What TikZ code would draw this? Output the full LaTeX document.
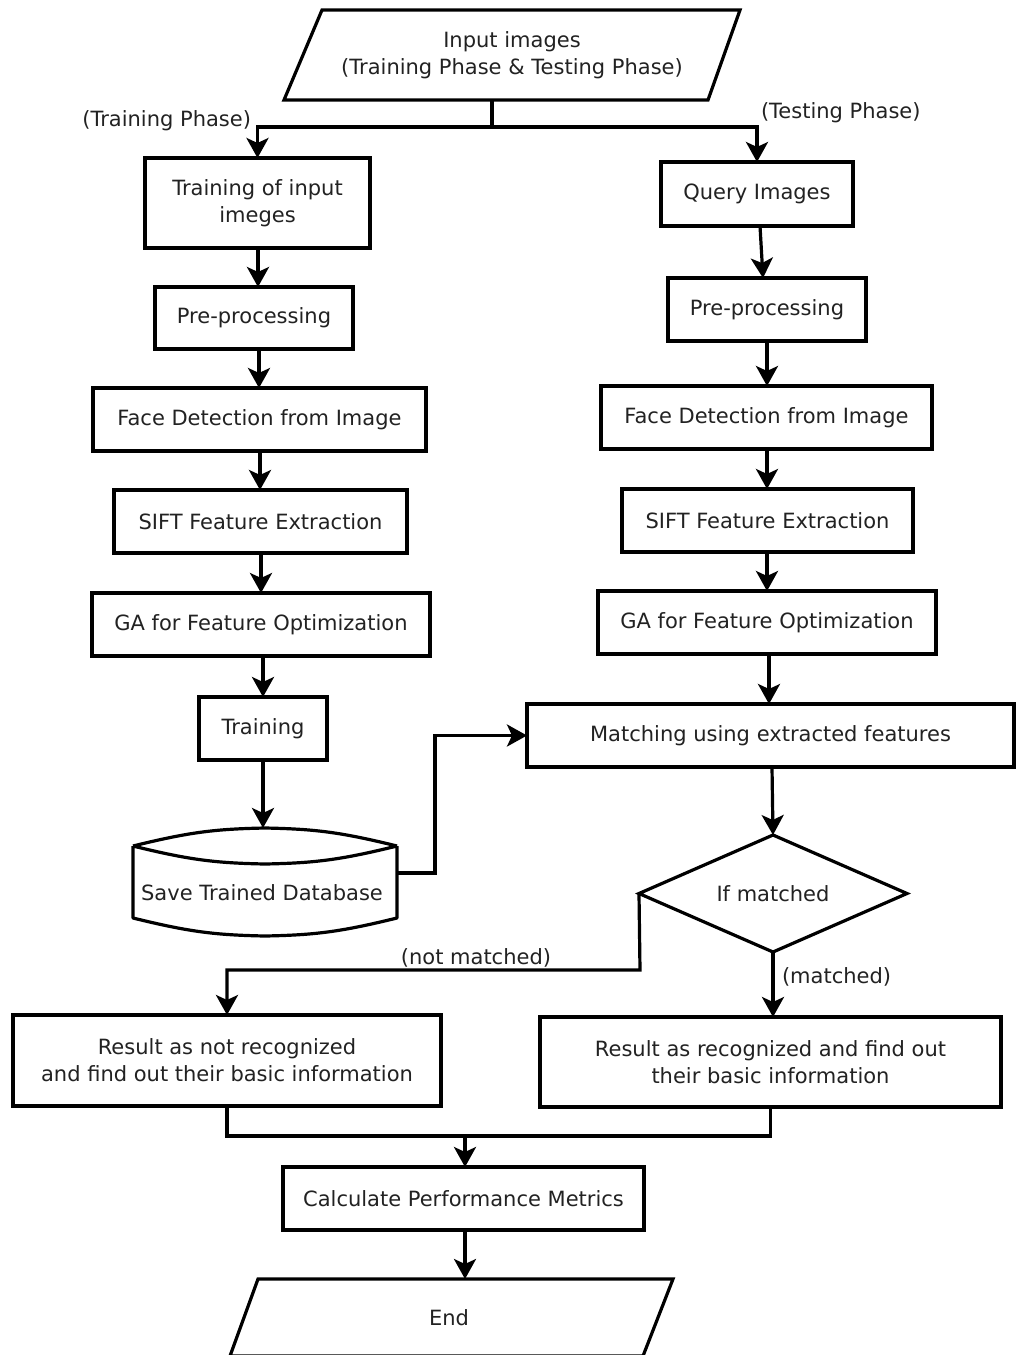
\documentclass[tikz,border=0pt]{standalone}
\usepackage{fontspec}
\setmainfont{DejaVu Sans}
\usetikzlibrary{arrows.meta,shapes.geometric,calc}
\definecolor{ink}{HTML}{222222}
\begin{document}
\begin{tikzpicture}[x=1pt,y=-1pt,
  every node/.style={font=\fontsize{21}{27}\selectfont, text=ink, align=center, inner sep=0pt, outer sep=0pt},
  box/.style={draw=black, line width=3.2pt, rectangle, fill=white},
  ghost/.style={rectangle, draw=none},
  lbl/.style={font=\fontsize{21}{25}\selectfont, text=ink},
  link/.style={draw=black, line width=3.2pt},
  arr/.style={link, -{Stealth[length=20pt,width=22pt,inset=5pt]}},
  dec/.style={draw=black, line width=3.2pt, diamond, aspect=2.3, fill=white}
]
\useasboundingbox (0,0) rectangle (1015,1355);

% ---------- start block (parallelogram) ----------
\node[ghost, minimum width=456, minimum height=90] (inp) at (512,55)
  {Input images\\(Training Phase \& Testing Phase)};
\draw[line width=3.2pt, line join=miter]
  ($(inp.north west)+(38,0)$) -- (inp.north east) -- ($(inp.south east)+(-32,0)$)
  -- (inp.south west) -- cycle;

% ---------- training branch ----------
\node[box, minimum width=225, minimum height=90] (tr1) at (257.5,203) {Training of input\\imeges};
\node[box, minimum width=198, minimum height=62] (tr2) at (254,318) {Pre-processing};
\node[box, minimum width=333, minimum height=63] (tr3) at (259.5,419.5) {Face Detection from Image};
\node[box, minimum width=293, minimum height=63] (tr4) at (260.5,521.5) {SIFT Feature Extraction};
\node[box, minimum width=338, minimum height=63] (tr5) at (261,624.5) {GA for Feature Optimization};
\node[box, minimum width=128, minimum height=63] (tr6) at (263,728.5) {Training};

% database (stored data) shape
\node[ghost, minimum width=264, minimum height=107] (db) at (265,881.5) {};
\node at (262,893) {Save Trained Database};
\draw[line width=3.2pt, line join=round]
  (133,846) .. controls (190,832) and (215,829) .. (265,828)
            .. controls (315,829) and (340,832) .. (397,846)
  (133,846) .. controls (190,860) and (215,863) .. (265,864)
            .. controls (315,863) and (340,860) .. (397,846)
  (133,846) -- (133,918)
            .. controls (190,932) and (215,935) .. (265,936)
            .. controls (315,935) and (340,932) .. (397,918) -- (397,846);

% ---------- testing branch ----------
\node[box, minimum width=192, minimum height=64] (te1) at (757,194) {Query Images};
\node[box, minimum width=198, minimum height=63] (te2) at (767,309.5) {Pre-processing};
\node[box, minimum width=331, minimum height=63] (te3) at (766.5,417.5) {Face Detection from Image};
\node[box, minimum width=291, minimum height=63] (te4) at (767.5,520.5) {SIFT Feature Extraction};
\node[box, minimum width=338, minimum height=63] (te5) at (767,622.5) {GA for Feature Optimization};
\node[box, minimum width=487, minimum height=63] (match) at (770.5,735.5) {Matching using extracted features};
\node[dec, minimum width=268, minimum height=117] (ifm) at (773,893.5) {If matched};

% ---------- results ----------
\node[box, minimum width=428, minimum height=91] (nrec) at (227,1060.5)
  {Result as not recognized\\and find out their basic information};
\node[box, minimum width=461, minimum height=90] (rec) at (770.5,1062)
  {Result as recognized and find out\\their basic information};
\node[box, minimum width=361, minimum height=63] (perf) at (463.5,1198.5) {Calculate Performance Metrics};

% end block (parallelogram)
\node[ghost, minimum width=443, minimum height=77] (fin) at (451.5,1317.5) {};
\node at (449,1318) {End};
\draw[line width=3.2pt, line join=miter]
  ($(fin.north west)+(28,0)$) -- (fin.north east) -- ($(fin.south east)+(-30,0)$)
  -- (fin.south west) -- cycle;

% ---------- connectors ----------
\coordinate (split) at (492,127);
\draw[link] (inp.south -| split) -- (split);
\draw[arr] (split) -| (tr1.north);
\draw[arr] (split) -| (te1.north);
\node[lbl, anchor=south east] (lblTr) at (251,131) {(Training Phase)};
\node[lbl, anchor=south west] (lblTe) at (761,123) {(Testing Phase)};

\draw[arr] (tr1.south -| 258,0) -- (tr2.north -| 258,0);
\draw[arr] (tr2.south -| 259,0) -- (tr3.north -| 259,0);
\draw[arr] (tr3.south -| 260,0) -- (tr4.north -| 260,0);
\draw[arr] (tr4.south -| 261,0) -- (tr5.north -| 261,0);
\draw[arr] (tr5.south -| 263,0) -- (tr6.north -| 263,0);
\draw[arr] (tr6.south -| 263,0) -- (db.north -| 263,0);

\draw[arr] (te1.south -| 760,0) -- (te2.north -| 763,0);
\draw[arr] (te2.south -| 767,0) -- (te3.north -| 767,0);
\draw[arr] (te3.south -| 767,0) -- (te4.north -| 767,0);
\draw[arr] (te4.south -| 767,0) -- (te5.north -| 767,0);
\draw[arr] (te5.south -| 769,0) -- (match.north -| 769,0);
\draw[arr] (match.south -| 772,0) -- (ifm.north);

\coordinate (dbout) at (397,873);
\draw[arr] (dbout) -- (435,873) |- (match.west);

\coordinate (nmturn) at (640,970);
\draw[arr] (ifm.west) -- (nmturn) -| (nrec.north);
\node[lbl, anchor=south] (lblNm) at (476,967) {(not matched)};
\draw[arr] (ifm.south) -- (rec.north -| ifm.south);
\node[lbl, anchor=west] (lblM) at (782,977) {(matched)};

\coordinate (merge) at (465,1136);
\draw[link] (nrec.south) |- (merge);
\draw[link] (rec.south) |- (merge);
\draw[arr] (merge) -- (perf.north -| merge);
\draw[arr] (perf.south -| 465,0) -- (fin.north -| 465,0);
\end{tikzpicture}
\end{document}
